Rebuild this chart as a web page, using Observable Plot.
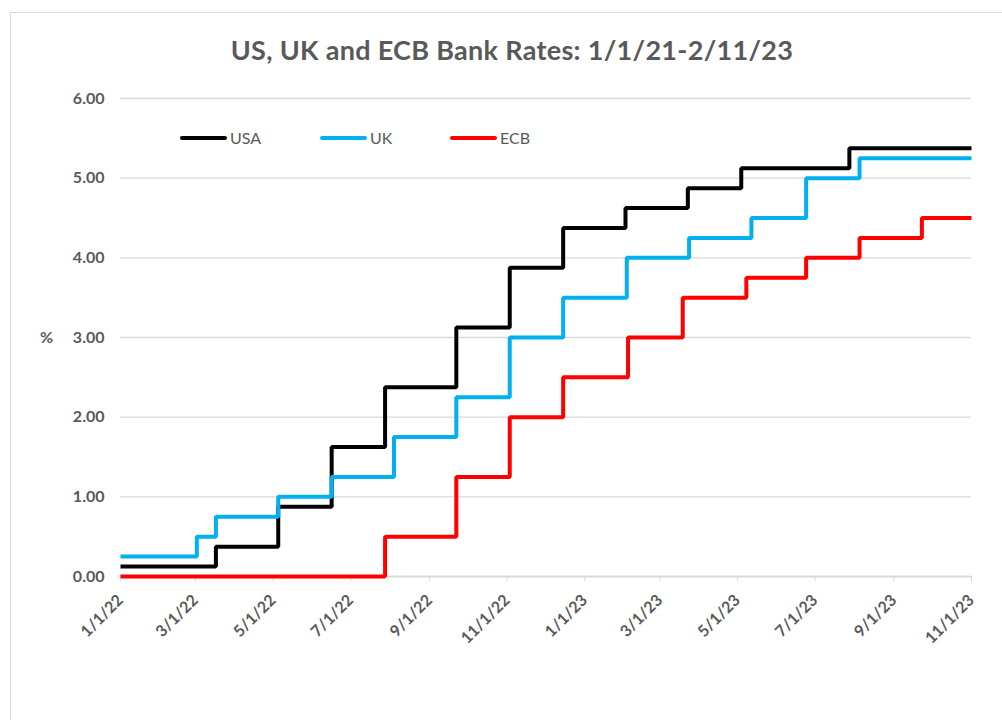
<!DOCTYPE html>
<html>
<head>
<meta charset="utf-8">
<script src="https://cdn.jsdelivr.net/npm/d3@7"></script>
<script src="https://cdn.jsdelivr.net/npm/@observablehq/plot@0.6"></script>
<style>
  html, body { margin: 0; padding: 0; background: #fff; }
  body { width: 1002px; height: 720px; position: relative; overflow: hidden; font-family: Lato, "Open Sans", sans-serif; }
  #frame { position: absolute; left: 10px; top: 12px; width: 1100px; height: 800px; border-left: 1.5px solid #d9d9d9; border-top: 1.5px solid #d9d9d9; }
  #title { position: absolute; left: 0; width: 1024px; top: 33px; text-align: center; font-size: 27px; font-weight: bold; color: #595959; letter-spacing: 0.3px; }
  #chart { position: absolute; left: 0; top: 0; }
  #ylab { position: absolute; left: 40px; top: 327px; font-size: 16px; font-weight: bold; color: #595959; }
  .leg { position: absolute; top: 128px; display: flex; align-items: center; font-size: 16px; color: #595959; }
  .leg .sw { width: 47px; height: 4px; margin-right: 3px; border-radius: 2px; }
</style>
</head>
<body>
<div id="frame"></div>
<div id="chart"></div>
<div id="title">US, UK and ECB Bank Rates: 1/1/21-2/11/23</div>
<div id="ylab">%</div>
<div id="legend"></div>
<script>
// ---- Data ----
const seriesNames = ["USA", "UK", "ECB"];
const seriesColors = ["#000000", "#00b0f0", "#ff0000"];

const usaDates = ["2022-01-01","2022-03-17","2022-05-05","2022-06-16","2022-07-28","2022-09-22","2022-11-03","2022-12-15","2023-02-02","2023-03-23","2023-05-04","2023-07-28","2023-11-01"];
const usaRates = [0.125,0.375,0.875,1.625,2.375,3.125,3.875,4.375,4.625,4.875,5.125,5.375,5.375];

const ukDates = ["2022-01-01","2022-03-02","2022-03-17","2022-05-05","2022-06-16","2022-08-04","2022-09-22","2022-11-03","2022-12-15","2023-02-03","2023-03-24","2023-05-12","2023-06-24","2023-08-05","2023-11-01"];
const ukRates = [0.25,0.5,0.75,1.0,1.25,1.75,2.25,3.0,3.5,4.0,4.25,4.5,5.0,5.25,5.25];

const ecbDates = ["2022-01-01","2022-07-28","2022-09-22","2022-11-03","2022-12-15","2023-02-04","2023-03-19","2023-05-08","2023-06-24","2023-08-05","2023-09-23","2023-11-01"];
const ecbRates = [0,0.5,1.25,2.0,2.5,3.0,3.5,3.75,4.0,4.25,4.5,4.5];

const xTickDates = ["2022-01-01","2022-03-01","2022-05-01","2022-07-01","2022-09-01","2022-11-01","2023-01-01","2023-03-01","2023-05-01","2023-07-01","2023-09-01","2023-11-01"];
const yTicks = [0,1,2,3,4,5,6];

// ---- Build table ----
const parse = d3.utcParse("%Y-%m-%d");
const rows = [];
[[usaDates, usaRates], [ukDates, ukRates], [ecbDates, ecbRates]].forEach(([ds, vs], i) => {
  ds.forEach((d, j) => rows.push({series: seriesNames[i], date: parse(d), rate: vs[j]}));
});
const xTicks = xTickDates.map(parse);

const chart = Plot.plot({
  width: 1002,
  height: 720,
  marginTop: 98,
  marginBottom: 144,
  marginLeft: 120,
  marginRight: 31,
  style: { fontFamily: "Lato, 'Open Sans', sans-serif", fontSize: "16px", background: "transparent", overflow: "visible" },
  x: { type: "utc", domain: [xTicks[0], xTicks[xTicks.length - 1]] },
  y: { domain: [0, 6] },
  color: { domain: seriesNames, range: seriesColors },
  marks: [
    Plot.gridY(yTicks, { stroke: "#d9d9d9", strokeOpacity: 1, strokeWidth: 1.3 }),
    Plot.axisY(yTicks, { tickSize: 0, tickPadding: 16, tickFormat: d3.format(".2f"), fontWeight: "bold", fill: "#595959", label: null }),
    Plot.ruleY([0], { stroke: "#d9d9d9", strokeWidth: 1.5 }),
    Plot.axisX(xTicks, { tickSize: 5, stroke: "#d9d9d9", strokeOpacity: 1, tickRotate: -45, tickPadding: 16, tickFormat: d3.utcFormat("%-m/%-d/%y"), fontWeight: "bold", fill: "#595959", label: null }),
    Plot.line(rows, { x: "date", y: "rate", z: "series", stroke: "series", curve: "step-after", strokeWidth: 4, strokeLinejoin: "miter", strokeLinecap: "butt" })
  ]
});
document.getElementById("chart").appendChild(chart);

// ---- HTML legend ----
const legendLeft = [180, 320, 450];
const legend = document.getElementById("legend");
seriesNames.forEach((name, i) => {
  const item = document.createElement("div");
  item.className = "leg";
  item.style.left = legendLeft[i] + "px";
  item.innerHTML = `<span class="sw" style="background:${seriesColors[i]}"></span><span>${name}</span>`;
  legend.appendChild(item);
});
</script>
</body>
</html>
